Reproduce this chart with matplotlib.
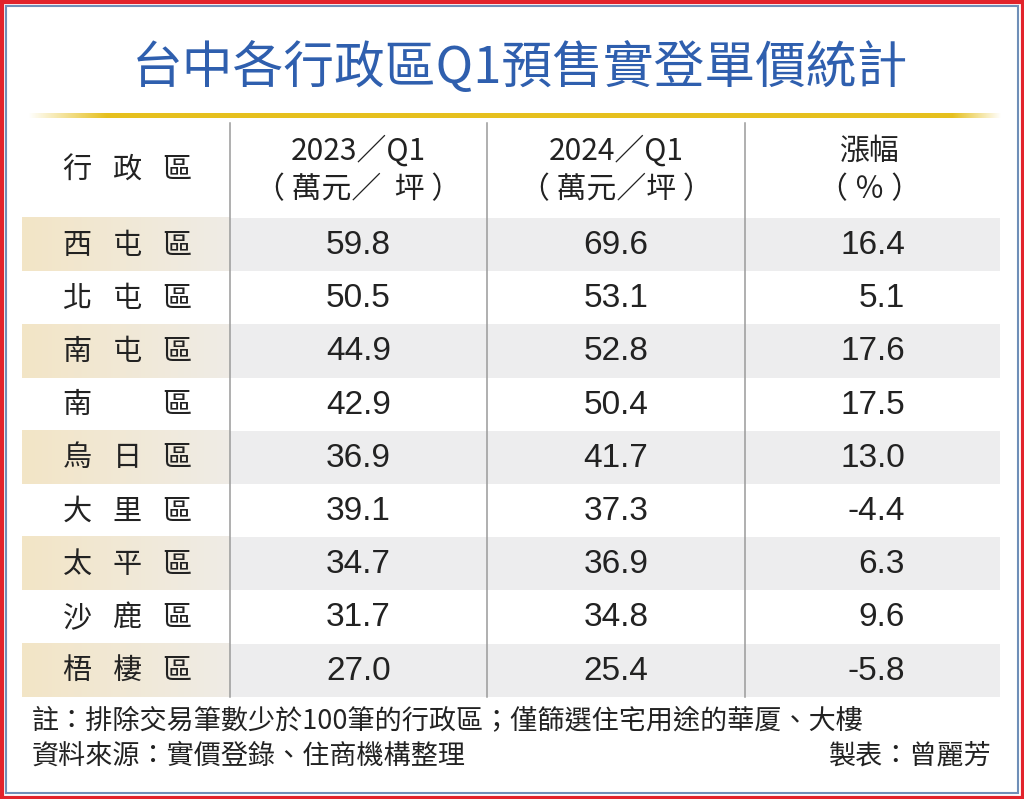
import numpy as np
import matplotlib
matplotlib.use("Agg")
import matplotlib.pyplot as plt
from matplotlib.colors import to_rgb

# ---------------- data ----------------
title = "台中各行政區Q1預售實登單價統計"
districts = ["西屯區", "北屯區", "南屯區", "南　區", "烏日區", "大里區", "太平區", "沙鹿區", "梧棲區"]
price_2023 = [59.8, 50.5, 44.9, 42.9, 36.9, 39.1, 34.7, 31.7, 27.0]
price_2024 = [69.6, 53.1, 52.8, 50.4, 41.7, 37.3, 36.9, 34.8, 25.4]
change_pct = [16.4, 5.1, 17.6, 17.5, 13.0, -4.4, 6.3, 9.6, -5.8]
header_col0 = "行政區"
header_col1 = ["2023／Q1", "（ 萬元／  坪 ）"]
header_col2 = ["2024／Q1", "（ 萬元／坪 ）"]
header_col3 = ["漲幅", "（ ％ ）"]
note_line = "註：排除交易筆數少於100筆的行政區；僅篩選住宅用途的華厦、大樓"
source_line = "資料來源：實價登錄、住商機構整理"
credit_line = "製表：曾麗芳"

CJK = ["Noto Sans CJK TC", "DejaVu Sans"]
NUM = ["Liberation Sans", "DejaVu Sans"]
TXT = "#222222"

W, H = 1024, 799
fig = plt.figure(figsize=(W / 100, H / 100), dpi=100)
ax = fig.add_axes([0, 0, 1, 1])
ax.set_xlim(0, W)
ax.set_ylim(H, 0)
ax.axis("off")

# frames
ax.add_patch(plt.Rectangle((1.5, 1.5), W - 3, H - 3, fill=False, ec="#e2232b", lw=3.0))
ax.add_patch(plt.Rectangle((6, 6), W - 12, H - 12, fill=False, ec="#6f8fb8", lw=1.5))

# title
ax.text(W / 2 + 8, 69, title, ha="center", va="center", fontsize=36.5, color="#2f5fae",
        family=CJK, fontweight="medium")

# gold gradient rule
gx = np.linspace(0, 1, 600)
alpha = np.clip(np.minimum(gx / 0.08, (1 - gx) / 0.05), 0, 1)
gold = np.zeros((1, gx.size, 4))
gold[..., :3] = to_rgb("#e6c01e")
gold[..., 3] = alpha
ax.imshow(gold, extent=(28, 1002, 118, 113), aspect="auto", interpolation="bilinear", zorder=2)

# table geometry
col_lines = [230, 487, 745]
row_top = 218
row_h = 53.2
n = len(districts)
tab_left, tab_right = 22, 1000

# shaded rows
beige = np.zeros((1, 200, 3))
t = np.linspace(0, 1, 200)[None, :, None]
beige[:] = (1 - t) * np.array(to_rgb("#f3e5c6")) + t * np.array(to_rgb("#efece6"))
for i in range(n):
    if i % 2 == 0:
        y0 = row_top + i * row_h
        y1 = y0 + row_h
        ax.imshow(beige, extent=(tab_left, col_lines[0], y1, y0), aspect="auto",
                  interpolation="bilinear", zorder=1)
        ax.add_patch(plt.Rectangle((col_lines[0], y0), tab_right - col_lines[0], row_h,
                                   fc="#ededee", ec="none", zorder=1))

for x in col_lines:
    ax.plot([x, x], [123, row_top + n * row_h], color="#9a9a9a", lw=1.1, zorder=3)

# header
c0 = 127
pitch = 50
c1 = (col_lines[0] + col_lines[1]) / 2
c2 = (col_lines[1] + col_lines[2]) / 2
c3_right = 905
c3 = 870


def spaced(text, xc, yc, size):
    chars = list(text)
    for k, ch in enumerate(chars):
        if ch.strip() == "" or ch == "　":
            continue
        ax.text(xc + (k - (len(chars) - 1) / 2) * pitch, yc, ch, ha="center", va="center",
                fontsize=size, color=TXT, family=CJK, zorder=4)


hdr_kw = dict(fontsize=21.5, color=TXT, family=CJK, va="center")
spaced(header_col0, c0, 170, 21)
ax.text(c1, 151, header_col1[0], ha="center", **hdr_kw)
ax.text(c1, 190, header_col1[1], ha="center", **hdr_kw)
ax.text(c2, 151, header_col2[0], ha="center", **hdr_kw)
ax.text(c2, 190, header_col2[1], ha="center", **hdr_kw)
ax.text(c3, 151, header_col3[0], ha="center", **hdr_kw)
ax.text(c3, 190, header_col3[1], ha="center", **hdr_kw)

# rows
for i in range(n):
    yc = row_top + (i + 0.5) * row_h + 1
    spaced(districts[i], c0, yc, 21)
    ax.text(c1, yc, f"{price_2023[i]:.1f}", ha="center", va="center", fontsize=24,
            color=TXT, family=NUM, zorder=4)
    ax.text(c2, yc, f"{price_2024[i]:.1f}", ha="center", va="center", fontsize=24,
            color=TXT, family=NUM, zorder=4)
    ax.text(c3_right, yc, f"{change_pct[i]:.1f}", ha="right", va="center", fontsize=24,
            color=TXT, family=NUM, zorder=4)

# notes
note_kw = dict(fontsize=19.5, color=TXT, family=CJK, va="center")
ax.text(32, 722, note_line, ha="left", **note_kw)
ax.text(32, 756, source_line, ha="left", **note_kw)
ax.text(992, 756, credit_line, ha="right", **note_kw)

fig.savefig("out.png", dpi=100, facecolor="white")
